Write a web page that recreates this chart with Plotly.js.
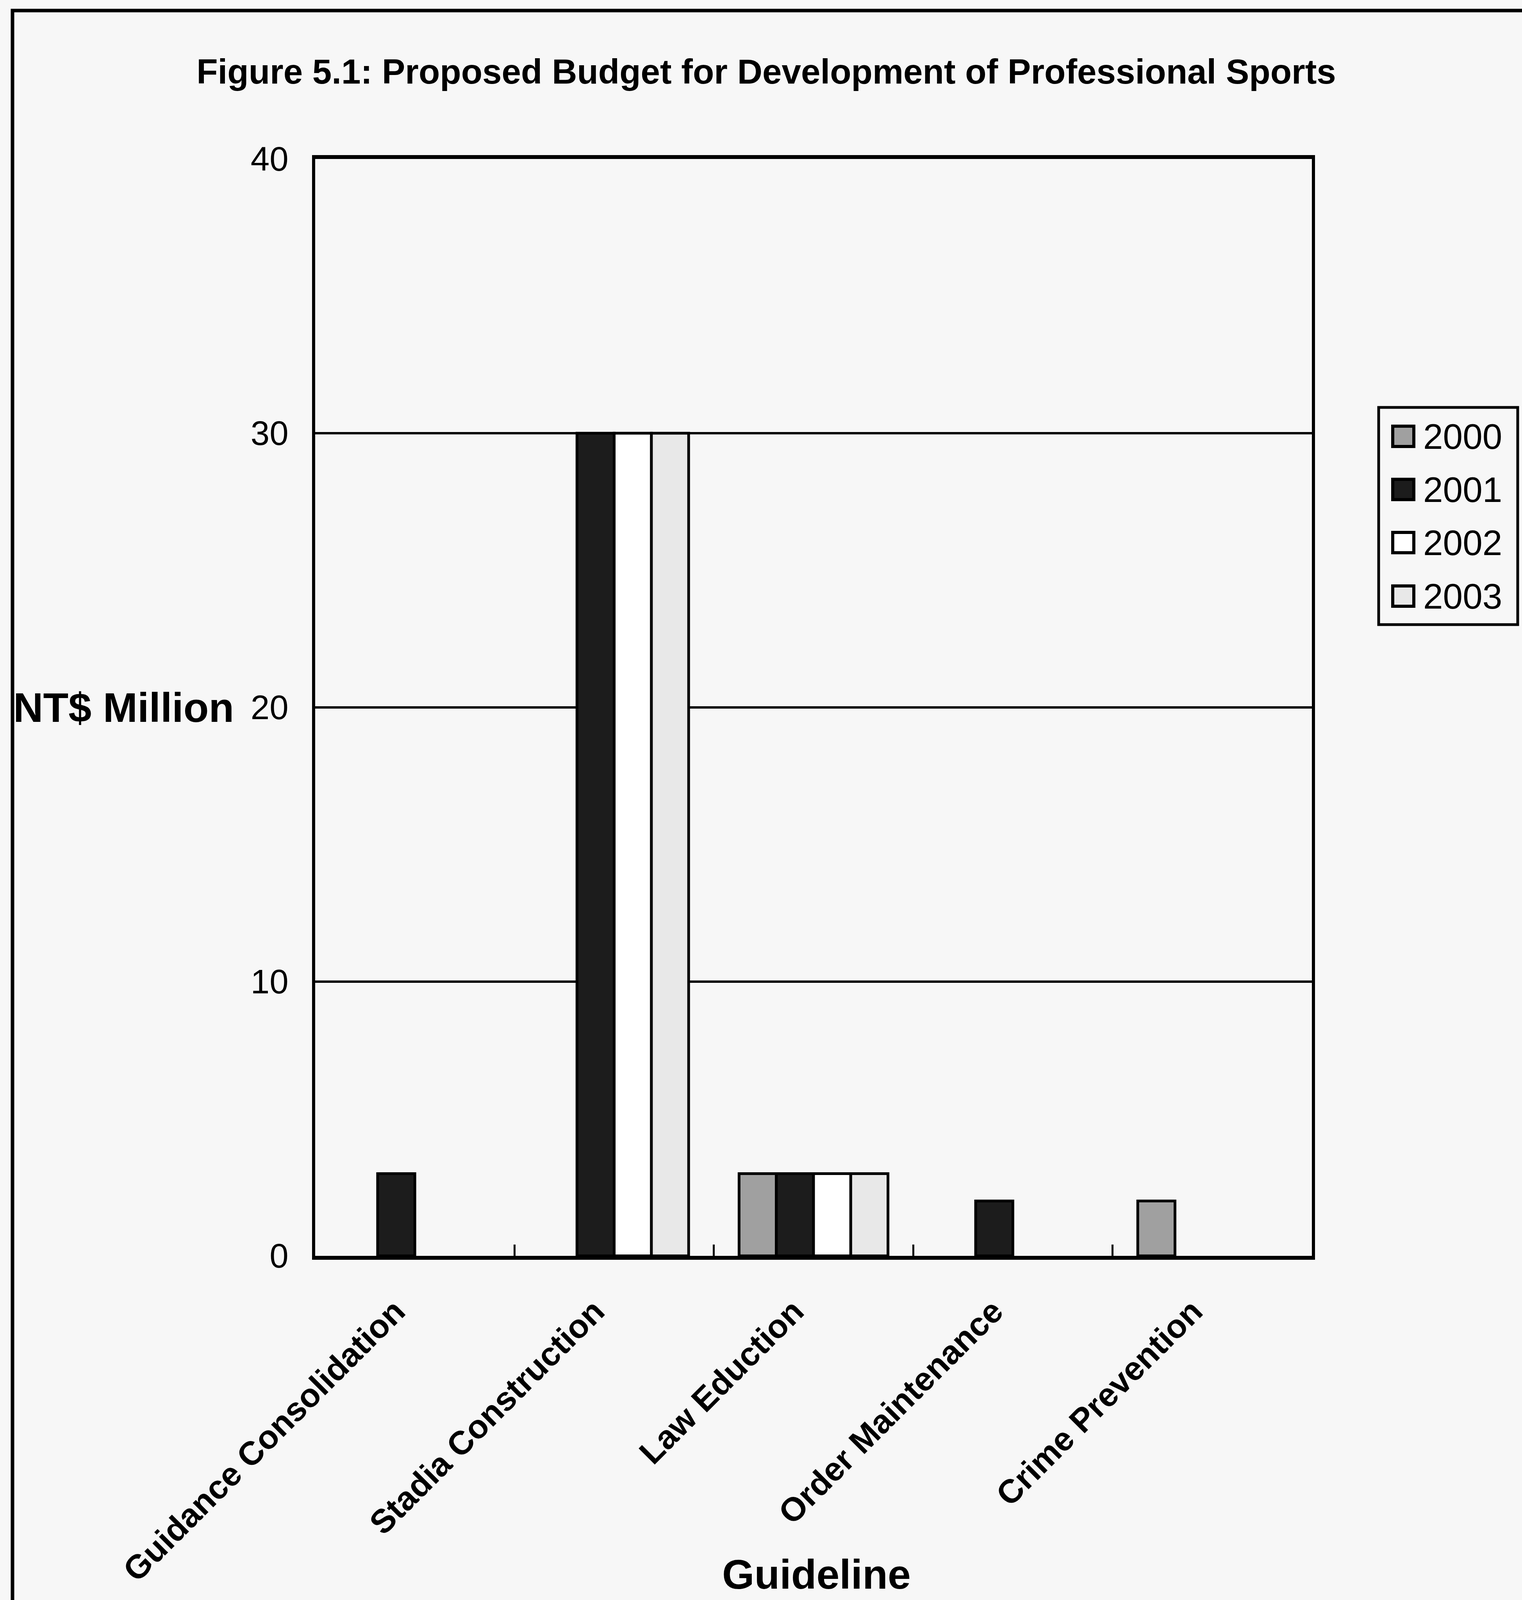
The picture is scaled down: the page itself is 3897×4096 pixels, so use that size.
<!DOCTYPE html>
<html><head><meta charset="utf-8">
<script src="https://cdn.plot.ly/plotly-3.0.1.min.js"></script>
<style>html,body{margin:0;padding:0;background:#f7f7f7}</style>
</head><body><div id="chart" style="width:3897px;height:4096px"></div>
<script>
// ---- data ----
const categories = ["Guidance Consolidation","Stadia Construction","Law Eduction","Order Maintenance","Crime Prevention"];
const years = ["2000","2001","2002","2003"];
const values2000 = [0, 0, 3, 0, 2];
const values2001 = [3, 30, 3, 2, 0];
const values2002 = [0, 30, 3, 0, 0];
const values2003 = [0, 30, 3, 0, 0];
const yTickValues = [0, 10, 20, 30, 40];
const chartTitle = "Figure 5.1: Proposed Budget for Development of Professional Sports";
const xTitle = "Guideline";
const yTitle = "NT$ Million";

// ---- styles ----
const W = 3897, H = 4096;
const M = {l: 807, r: 538, t: 407, b: 881};
const PW = W - M.l - M.r, PH = H - M.t - M.b;
const px2x = p => (p - M.l) / PW;
const px2y = p => (H - M.b - p) / PH;
const FONT = "Liberation Sans, Arial, sans-serif";
const fills = ["#a0a0a0", "#1c1c1c", "#ffffff", "#e8e8e8"];
const series = [values2000, values2001, values2002, values2003];

const traces = series.map((vals, i) => ({
  type: "bar",
  name: years[i],
  x: categories,
  y: vals,
  marker: {color: fills[i], line: {color: "#000", width: vals.map(v => v === 0 ? 0 : 7)}},
  showlegend: false,
  hoverinfo: "skip"
}));

const shapes = [];
const annotations = [];

// outer frame
shapes.push({type: "rect", xref: "paper", yref: "paper",
  x0: px2x(32), x1: px2x(W + 60), y0: px2y(27), y1: px2y(H + 60),
  line: {color: "#000", width: 9}, fillcolor: "rgba(0,0,0,0)", layer: "below"});

// custom legend
shapes.push({type: "rect", xref: "paper", yref: "paper",
  x0: px2x(3530), x1: px2x(3886), y0: px2y(1043), y1: px2y(1599),
  line: {color: "#000", width: 7}, fillcolor: "rgba(0,0,0,0)"});
const legY = [1117, 1253, 1389, 1526];
years.forEach((yr, i) => {
  const cy = legY[i];
  shapes.push({type: "rect", xref: "paper", yref: "paper",
    x0: px2x(3593 - 27), x1: px2x(3593 + 27), y0: px2y(cy - 26), y1: px2y(cy + 26),
    line: {color: "#000", width: 8}, fillcolor: fills[i]});
  annotations.push({xref: "paper", yref: "paper", x: px2x(3642), y: px2y(cy),
    xanchor: "left", yanchor: "middle", showarrow: false, text: yr,
    font: {family: FONT, size: 91, color: "#000"}});
});

// axis titles
annotations.push({xref: "paper", yref: "y", x: px2x(601), y: 20,
  xanchor: "right", yanchor: "middle", showarrow: false, text: yTitle,
  font: {family: FONT, size: 106, color: "#000", weight: "bold"}});
annotations.push({xref: "paper", yref: "paper", x: px2x(2090), y: px2y(4030),
  xanchor: "center", yanchor: "middle", showarrow: false, text: xTitle,
  font: {family: FONT, size: 106, color: "#000", weight: "bold"}});

const layout = {
  width: W, height: H,
  margin: M,
  paper_bgcolor: "#f7f7f7",
  plot_bgcolor: "#f7f7f7",
  title: {text: chartTitle, xref: "container", yref: "container",
    x: 1962 / W, y: 1 - 183 / H, xanchor: "center", yanchor: "middle",
    font: {family: FONT, size: 89, color: "#000", weight: "bold"}},
  barmode: "group",
  bargap: 0.253,
  bargroupgap: 0,
  xaxis: {
    type: "category",
    tickson: "boundaries",
    ticks: "inside", ticklen: 29, tickwidth: 5, tickcolor: "#000",
    tickangle: -45,
    tickfont: {family: FONT, size: 85, color: "#000", weight: "bold"},
    ticklabelstandoff: 48,
    ticklabelshift: -50,
    showline: true, linewidth: 10, linecolor: "#000", mirror: true,
    showgrid: false, zeroline: false, fixedrange: true
  },
  yaxis: {
    range: [0, 40],
    tickvals: yTickValues,
    ticktext: yTickValues.map(String),
    ticks: "",
    tickfont: {family: FONT, size: 87, color: "#000"},
    ticklabelstandoff: 43,
    showgrid: true, gridcolor: "#000", gridwidth: 6,
    showline: true, linewidth: 8, linecolor: "#000", mirror: true,
    zeroline: false, fixedrange: true
  },
  shapes: shapes,
  annotations: annotations,
  showlegend: false
};

Plotly.newPlot("chart", traces, layout, {displayModeBar: false, staticPlot: true});
</script>
</body></html>
